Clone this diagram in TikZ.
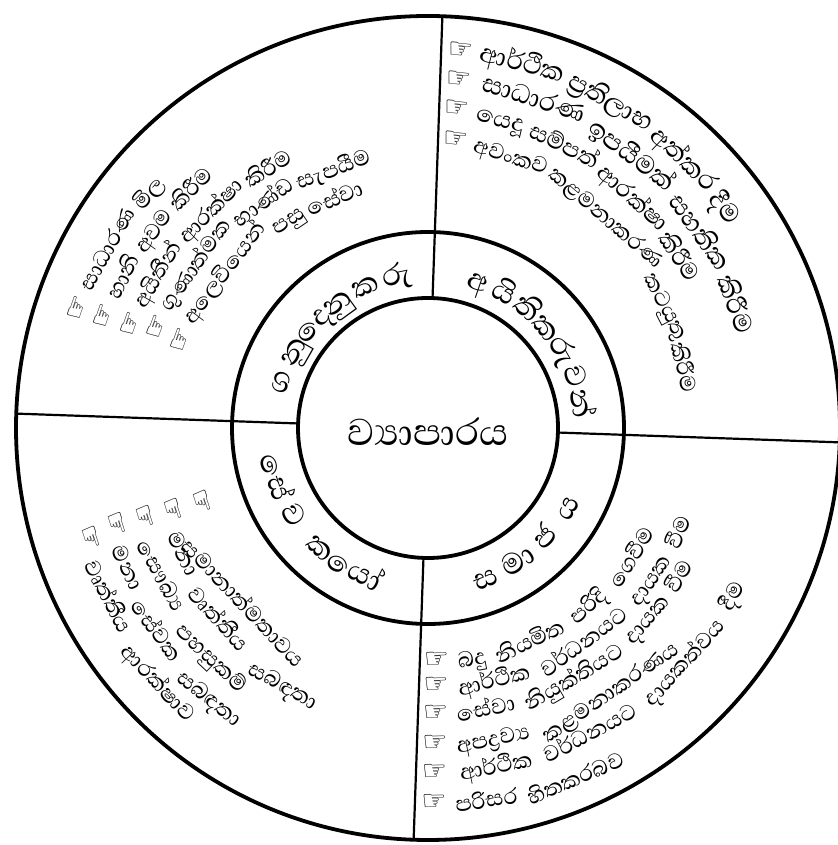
\documentclass[tikz,border=0pt]{standalone}
\usepackage{fontspec}
\newfontfamily\sinhala[Script=Sinhala]{Abhaya Libre}
\newfontfamily\symbfont{DejaVu Sans}
\usetikzlibrary{calc}

\def\outsize{28}
\def\wordgap{8}
\newcommand\outfont{\sinhala\fontsize{\outsize}{\outsize}\selectfont}
\newcommand\midfont{\sinhala\fontsize{38}{42}\selectfont}
\newcommand\hand{{\symbfont\bfseries\fontsize{28}{30}\selectfont ☞}}
\newsavebox\wordbox

% words laid round (c): name, radius, first angle, 1 = clockwise / -1 = anticlockwise, drift, words
\newcommand\arcwords[6]{%
  \xdef\arcpos{#3}%
  \foreach \w [count=\k] in {#6}{%
    \pgfinterruptpicture\global\setbox\wordbox\hbox{\outfont\w}\endpgfinterruptpicture
    \pgfmathsetmacro\halfang{deg(\the\wd\wordbox/(2*(#2)))}%
    \pgfmathsetmacro\midang{\arcpos-(#4)*\halfang}%
    \pgfmathsetmacro\radius{#2+(#5)*abs(\midang-(#3))-(#4)*9}%
    \node[word, rotate=\midang-(#4)*90] (#1-\k) at ($(c)+(\midang:\radius pt)$) {\w};
    \pgfmathsetmacro\nextang{\arcpos-(#4)*(2*\halfang+deg(\wordgap/(#2)))}%
    \xdef\arcpos{\nextang}%
  }}
% letters of a ring label: name, radius, first angle, step, direction, letters
\newcommand\ringword[6]{%
  \foreach \g [count=\k] in {#6}{%
    \pgfmathsetmacro\midang{#3-(#5)*(\k-1)*(#4)}%
    \node[ringlab, rotate=\midang-(#5)*90] (#1-\k) at ($(c)+(\midang:#2pt)$) {\g};
  }}

\begin{document}
\begin{tikzpicture}[x=1pt, y=1pt,
  ring/.style={line width=3.8pt},
  divider/.style={line width=2.2pt},
  word/.style={anchor=base, inner sep=0pt, font=\outfont},
  ringlab/.style={anchor=base, inner sep=0pt, font=\midfont}]
\useasboundingbox (0,0) rectangle (837,845);
\coordinate (c) at (428,417);
\draw[ring] (c) circle[radius=412pt];
\draw[ring] (c) circle[radius=196pt];
\draw[ring] (c) circle[radius=130pt];
\foreach \a in {88,178,268,358}
  \draw[divider] ($(c)+(\a:130pt)$) -- ($(c)+(\a:412pt)$);

\node[font=\sinhala\fontsize{48}{52}\selectfont, inner sep=0pt] (biz) at ($(c)+(0,-4)$) {ව්‍යාපාරය};

% middle ring
\ringword{cust}{146}{162.6}{12.2}{1}{ග,නු,දෙ,නු,ක,රු}
\ringword{own}{146}{71}{10.3}{1}{අ,යි,ති,ක,රු,ව,න්}
\ringword{soc}{170}{291}{13}{-1}{ස,මා,ජ,ය}
\ringword{emp}{170}{198}{15}{-1}{සේ,ව,ක,යෝ}

% customers
\arcwords{cu1}{372}{163}{1}{-0.25}{\hand,සාධාරණ,මිල}
\arcwords{cu2}{344}{163}{1}{-0.22}{\hand,හානි,අවම,කිරීම}
\arcwords{cu3}{316}{163}{1}{-0.25}{\hand,අයිතීන්,ආරක්ෂා,කිරීම}
\arcwords{cu4}{290}{162}{1}{-0.25}{\hand,ගුණාත්මක,භාණ්ඩ,සැපයීම}
\arcwords{cu5}{264}{163}{1}{-0.3}{\hand,අලෙවියෙන්,පසු,සේවා}
% owners
\def\outsize{33}
\arcwords{ow1}{380}{87}{1}{-0.2}{\hand,ආර්ථික,ප්‍රතිලාභ,අත්කර,දීම}
\def\wordgap{12}
\arcwords{ow2}{351}{87}{1}{-0.3}{\hand,සාධාරණ,ඉපයීමක්,සහතික,කිරීම}
\def\outsize{30}\def\wordgap{8}
\arcwords{ow3}{322}{87}{1}{-0.32}{\hand,යෙදූ,සම්පත්,ආරක්ෂා,කිරීම}
\def\outsize{28}
\arcwords{ow4}{291}{87}{1}{-0.36}{\hand,අවංකව,කළමනාකරණ,කටයුතු,කිරීම}
% society
\arcwords{so1}{231}{269}{-1}{0.15}{\hand,බදු,නියමිත,පරිදි,ගෙවීම}
\arcwords{so2}{256}{269}{-1}{0.2}{\hand,ආර්ථික,වර්ධනයට,දායක,වීම}
\arcwords{so3}{284}{269}{-1}{0.1}{\hand,සේවා,නියුක්තියට,දායක,වීම}
\arcwords{so4}{314}{269}{-1}{0.15}{\hand,අපද්‍රව්‍ය,කළමනාකරණය}
\def\wordgap{12}
\arcwords{so5}{343}{269}{-1}{0.05}{\hand,ආර්ථික,වර්ධනයට,දායකත්වය,දීම}
\def\wordgap{8}
\arcwords{so6}{373}{269}{-1}{0.25}{\hand,පරිසර,හිතකරබව}
% employees
\arcwords{em1}{236}{195}{-1}{0.6}{\hand,සමානාත්මතාවය}
\arcwords{em2}{266}{195}{-1}{0.6}{\hand,මනා,වෘත්තීය,සබඳතා}
\arcwords{em3}{295}{195}{-1}{0.6}{\hand,සෞඛ්‍ය,පහසුකම්}
\arcwords{em4}{324}{195}{-1}{0.6}{\hand,මනා,සේවක,සබඳතා}
\arcwords{em5}{353}{196}{-1}{0.6}{\hand,වෘත්තීය,ආරක්ෂාව}
\end{tikzpicture}
\end{document}
